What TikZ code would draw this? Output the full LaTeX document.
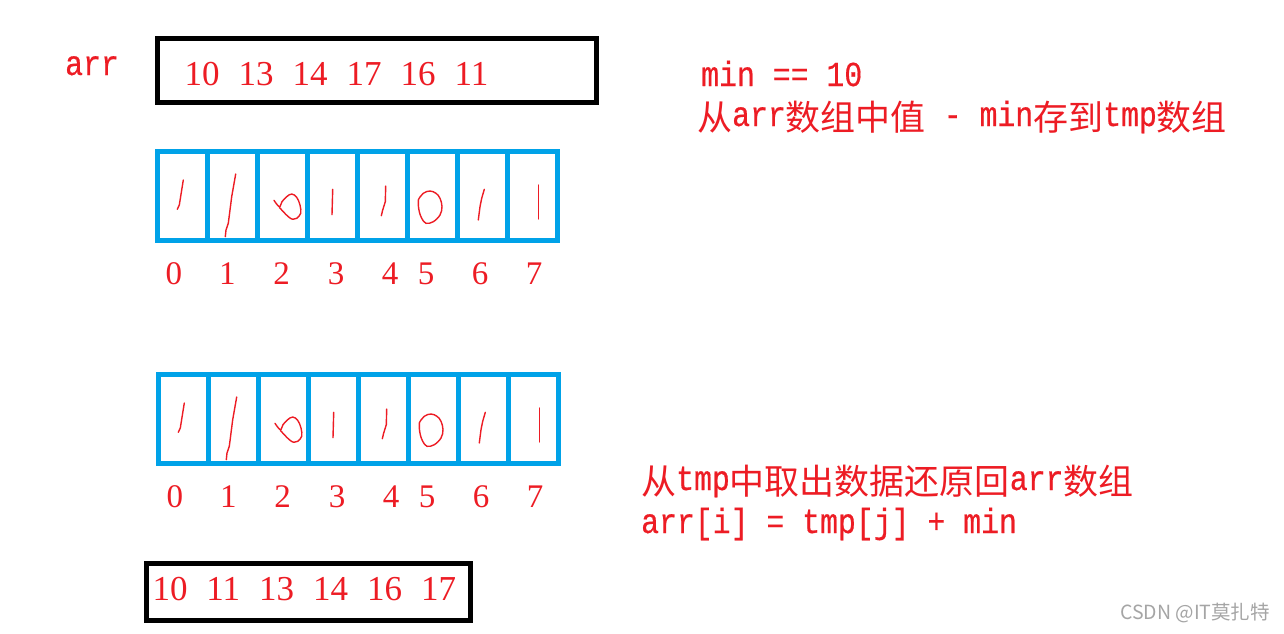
\documentclass[tikz,border=0pt]{standalone}
\usepackage{fontspec}
\setmainfont{Liberation Serif}
\newfontfamily\monof[FakeStretch=0.852,FakeBold=0.5]{Liberation Mono}
\newfontfamily\cjk{Noto Sans CJK SC}
\newcommand\zhc[1]{\raisebox{-4pt}{\cjk #1}}
\newcommand\gp{\hspace{19pt}}
\definecolor{pred}{RGB}{237,28,36}
\definecolor{pblue}{RGB}{0,162,232}
\definecolor{wmgray}{RGB}{165,165,165}
\newcommand\scribbles{%
  \draw[scrib] (183.3,180) -- (181.7,190) -- (179.3,205) -- (177.3,209.3);
  \draw[scrib] (235.7,174) -- (231.7,196.7) -- (228.3,223.3) -- (226,230) -- (225.3,236.7);
  \draw[scrib] plot[smooth, tension=0.6] coordinates {(274,200.3) (279.3,206.7) (282,201.7) (286.7,196.7) (291.7,194) (296.7,197.3) (300,205) (300.7,213.3) (296.7,218.3) (292.7,219.3) (288.3,216.7) (283.3,211.7) (279.3,207.3)};
  \draw[scrib] (332.7,189.3) -- (332,214.7);
  \draw[scrib] (385.7,186) -- (385.3,201.7) -- (382.7,210) -- (381.3,215.7);
  \draw[scrib] plot[smooth cycle, tension=0.6] coordinates {(418.3,200) (423.3,193.3) (430,191) (436,193.3) (440,198.3) (442,206.7) (440,215) (433.3,221.7) (426,223.3) (421.7,218.3) (419.3,211.7) (418.3,205)};
  \draw[scrib] (484.3,189.3) -- (481.7,198.3) -- (480,206.7) -- (478.3,220);
  \draw[scrib] (538.3,185) -- (538.3,219);
}
\begin{document}
\begin{tikzpicture}[x=1pt,y=-1pt,
  blackbox/.style={draw=black, line width=5pt, inner sep=0pt, outer sep=0pt},
  bluecell/.style={draw=pblue, line width=5pt, inner sep=0pt, outer sep=0pt},
  scrib/.style={draw=pred, line width=1.4pt, line join=round, line cap=round},
  numtxt/.style={text=pred, font=\fontsize{35}{40}\selectfont, anchor=base west, inner sep=0pt},
  idx/.style={text=pred, font=\fontsize{33}{40}\selectfont, anchor=base, inner sep=0pt},
  mono/.style={text=pred, font=\monof\fontsize{35}{40}\selectfont, anchor=base west, inner sep=0pt}]
\useasboundingbox (0,0) rectangle (1284,633);
\fill[white] (0,0) rectangle (1284,633);

% arr label and top box
\node[mono] (arrlbl) at (65,75) {arr};
\node[blackbox, minimum width=439pt, minimum height=64pt] (arrbox) at (377,70.5) {};
\node[numtxt] (arrvals) at (184.5,85.5) {10\gp 13\gp 14\gp 17\gp 16\gp 11};

% first tmp array
\foreach \i in {0,...,7}
  \node[bluecell, minimum width=50pt, minimum height=88.5pt] (a\i) at (182.5+50*\i,195.75) {};
\scribbles
\foreach \x/\n in {173.8/0, 227.3/1, 281.7/2, 336/3, 390/4, 426/5, 480/6, 534/7}
  \node[idx] (ia\n) at (\x,284) {\n};

% second tmp array
\foreach \i in {0,...,7}
  \node[bluecell, minimum width=50pt, minimum height=88.5pt] (b\i) at (183.5+50*\i,418.75) {};
\begin{scope}[shift={(1,223)}]
\scribbles
\end{scope}
\foreach \x/\n in {174.8/0, 228.3/1, 282.7/2, 337/3, 391/4, 427/5, 481/6, 535/7}
  \node[idx] (ib\n) at (\x,507.5) {\n};

% result box
\node[blackbox, minimum width=324pt, minimum height=57.3pt] (resbox) at (308.6,592.2) {};
\node[numtxt] (resvals) at (152.3,600) {10\gp 11\gp 13\gp 14\gp 16\gp 17};

% explanations
\node[mono] (t1) at (701,86) {min == 10};
\node[mono] (t2) at (697,126) {\zhc{从}arr\zhc{数组中值} - min\zhc{存到}tmp\zhc{数组}};
\node[mono] (t3) at (641,490) {\zhc{从}tmp\zhc{中取出数据还原回}arr\zhc{数组}};
\node[mono] (t4) at (641,533) {arr[i] = tmp[j] + min};

% watermark
\node[font=\cjk\fontsize{19.5}{22}\selectfont, text=wmgray, anchor=base west, inner sep=0pt] (wm) at (1120,619) {CSDN @IT莫扎特};
\end{tikzpicture}
\end{document}
